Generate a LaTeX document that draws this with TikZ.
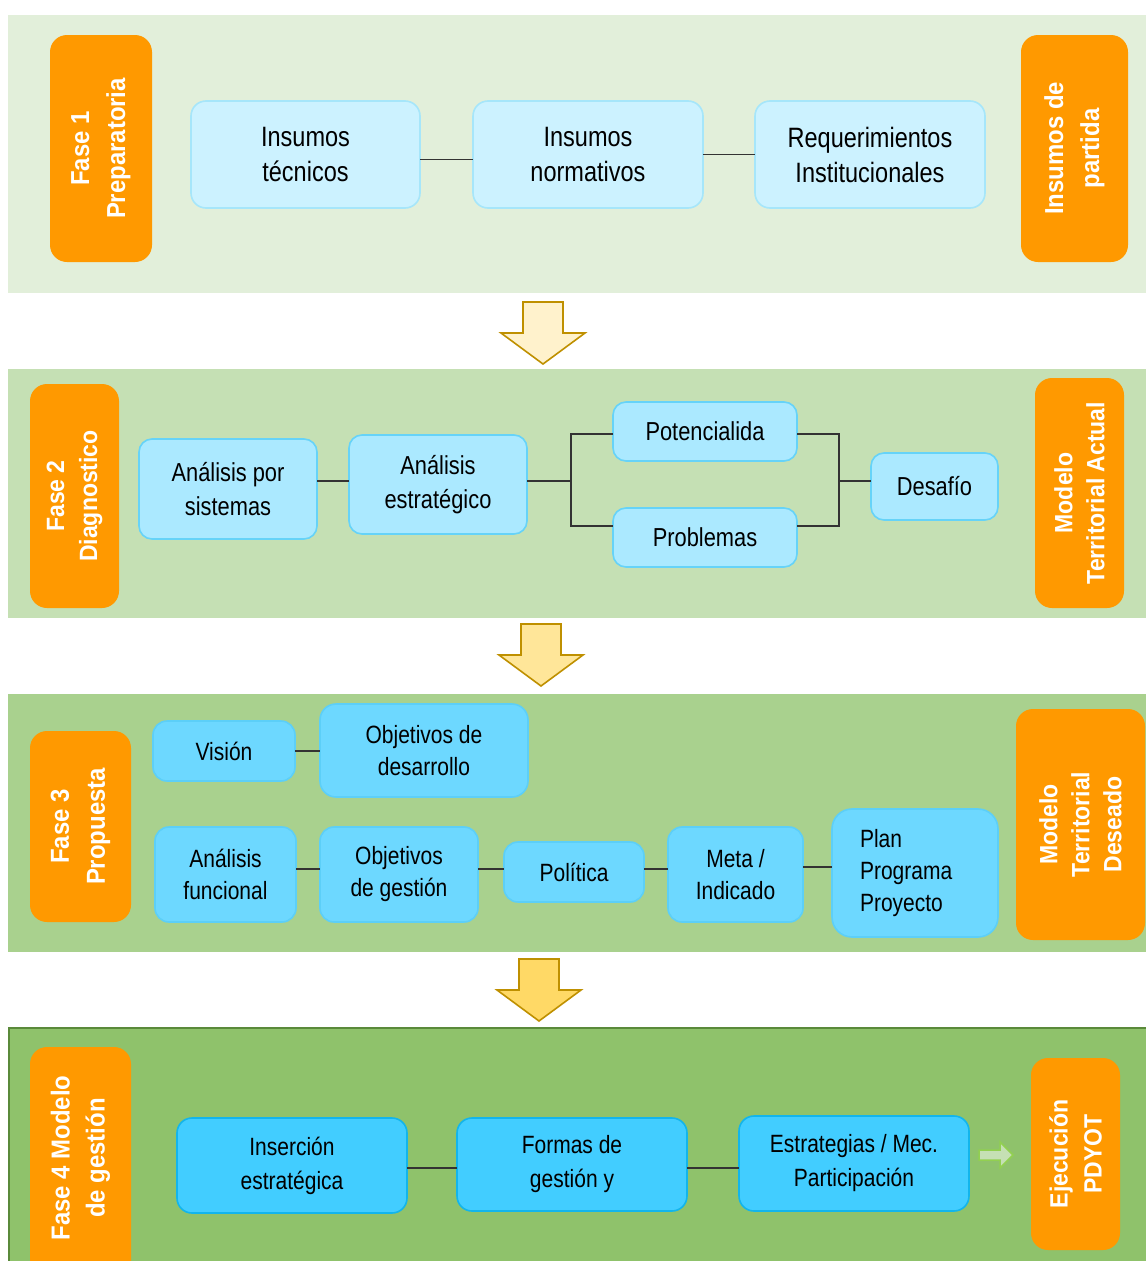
\documentclass[tikz,border=0pt]{standalone}
\usepackage{fontspec}
\setmainfont{Liberation Sans}[FakeStretch=0.84]
\newfontfamily\labfont{Liberation Sans}[FakeStretch=0.92]
\definecolor{bandA}{HTML}{E2EFDA}
\definecolor{bandB}{HTML}{C5E0B4}
\definecolor{bandC}{HTML}{A9D18E}
\definecolor{bandD}{HTML}{8FC26B}
\definecolor{bandDline}{HTML}{5A8A3A}
\definecolor{orbox}{HTML}{FF9900}
\definecolor{nAfill}{HTML}{CCF2FF}
\definecolor{nAdraw}{HTML}{A6E6FA}
\definecolor{nBfill}{HTML}{ABE9FF}
\definecolor{nBdraw}{HTML}{66D3F8}
\definecolor{nCfill}{HTML}{6DD8FF}
\definecolor{nCdraw}{HTML}{5CCFF8}
\definecolor{nDfill}{HTML}{42CDFF}
\definecolor{nDdraw}{HTML}{12B5EC}
\definecolor{conn}{HTML}{333333}
\definecolor{arrA}{HTML}{FFF2CC}
\definecolor{arrB}{HTML}{FFE699}
\definecolor{arrC}{HTML}{FFD966}
\definecolor{arrline}{HTML}{BF9000}
\definecolor{garfill}{HTML}{C5E0B4}
\definecolor{garline}{HTML}{92D050}
\begin{document}
\begin{tikzpicture}[x=1pt,y=-1pt,
  every node/.style={inner sep=0pt, outer sep=0pt},
  lab/.style={fill=orbox, draw=none, rounded corners=17pt, rotate=90, align=center,
    text=white, font=\labfont\bfseries\fontsize{26}{36}\selectfont},
  boxA/.style={fill=nAfill, draw=nAdraw, line width=1.6pt, rounded corners=15pt, align=center,
    font=\fontsize{28}{35}\selectfont},
  boxB/.style={fill=nBfill, draw=nBdraw, line width=1.6pt, rounded corners=13pt, align=center,
    font=\fontsize{26}{34}\selectfont},
  boxC/.style={fill=nCfill, draw=nCdraw, line width=1.6pt, rounded corners=14pt, align=center,
    font=\fontsize{25}{32}\selectfont},
  boxD/.style={fill=nDfill, draw=nDdraw, line width=1.6pt, rounded corners=15pt, align=center,
    font=\fontsize{25}{34}\selectfont},
  link/.style={draw=conn, line width=1.3pt},
  bigarrow/.style={draw=arrline, line width=1.6pt, line join=miter}
]
\useasboundingbox (0,0) rectangle (1146,1261);
\fill[white] (0,0) rectangle (1146,1261);

% ---------- bands ----------
\fill[bandA] (8,15) rectangle (1146,293);
\fill[bandB] (8,369) rectangle (1146,618);
\fill[bandC] (8,694) rectangle (1146,952);
\fill[bandD] (8,1027) rectangle (1146,1275);
\draw[bandDline, line width=1.5pt] (8.75,1275) -- (8.75,1027.75) -- (1146,1027.75);

% ---------- big arrows ----------
\path[bigarrow, fill=arrA] (523,302) -- (563,302) -- (563,333) -- (585,333) -- (543,364) -- (501,333) -- (523,333) -- cycle;
\path[bigarrow, fill=arrB] (521,624) -- (561,624) -- (561,655) -- (583,655) -- (541,686) -- (499,655) -- (521,655) -- cycle;
\path[bigarrow, fill=arrC] (519,959) -- (559,959) -- (559,990) -- (581,990) -- (539,1021) -- (497,990) -- (519,990) -- cycle;

% ---------- Fase 1 ----------
\node[lab, minimum width=227, minimum height=102] (f1) at (101,148.5) {Fase 1\\Preparatoria};
\node[lab, minimum width=227, minimum height=107] (idp) at (1074.5,148.5) {Insumos de\\partida};
\node[boxA, minimum width=229, minimum height=107] (it) at (305.5,154.5) {Insumos\\técnicos};
\node[boxA, minimum width=230, minimum height=107] (inn) at (588,154.5) {Insumos\\normativos};
\node[boxA, minimum width=230, minimum height=107] (ri) at (870,154.5) {Requerimientos\\Institucionales};
\draw[link] ([yshift=-5pt]it.east) -- ([yshift=-5pt]inn.west);
\draw[link] (inn.east) -- (ri.west);

% ---------- Fase 2 ----------
\node[lab, minimum width=224, minimum height=89, font=\labfont\bfseries\fontsize{25}{33}\selectfont] (f2) at (74.5,496) {Fase 2\\Diagnostico};
\node[lab, minimum width=230, minimum height=89, font=\labfont\bfseries\fontsize{25}{32}\selectfont] (mta) at (1079.5,493) {Modelo\\Territorial Actual};
\node[boxB, minimum width=178, minimum height=100] (aps) at (228,489) {Análisis por\\sistemas};
\node[boxB, minimum width=178, minimum height=99] (aes) at (438,484.5) {Análisis\\estratégico};
\node[boxB, minimum width=184, minimum height=59] (pot) at (705,431.5) {Potencialida};
\node[boxB, minimum width=184, minimum height=59] (pro) at (705,537.5) {Problemas};
\node[boxB, minimum width=127, minimum height=67] (des) at (934.5,486.5) {Desafío};
\coordinate (jl) at (571,481);
\coordinate (jr) at (839,481);
\draw[link] (aps.east |- jl) -- (aes.west |- jl);
\draw[link] (aes.east |- jl) -- (jl);
\draw[link] (pot.west |- 0,434) -- (jl |- 0,434) -- (jl |- 0,526) -- (pro.west |- 0,526);
\draw[link] (pot.east |- 0,434) -- (jr |- 0,434) -- (jr |- 0,526) -- (pro.east |- 0,526);
\draw[link] (jr) -- (des.west |- jr);

% ---------- Fase 3 ----------
\node[lab, minimum width=191, minimum height=101] (f3) at (80.5,826.5) {Fase 3\\Propuesta};
\node[lab, minimum width=231, minimum height=129, font=\labfont\bfseries\fontsize{25}{32}\selectfont] (mtd) at (1080.5,824.5) {Modelo\\Territorial\\Deseado};
\node[boxC, minimum width=142, minimum height=60] (vis) at (224,751) {Visión};
\node[boxC, minimum width=208, minimum height=93, rounded corners=16pt] (od) at (424,750.5) {Objetivos de\\desarrollo};
\node[boxC, minimum width=141, minimum height=95] (af) at (225.5,874.5) {Análisis\\funcional};
\node[boxC, minimum width=158, minimum height=95] (og) at (399,874.5) {Objetivos\\de gestión};
\node[boxC, minimum width=140, minimum height=60] (pol) at (574,872) {Política};
\node[boxC, minimum width=135, minimum height=95] (mi) at (735.5,874.5) {Meta /\\Indicado};
\node[boxC, minimum height=128, text width=110pt, inner xsep=28pt, align=left, rounded corners=20pt] (ppp) at (915,873) {Plan\\Programa\\Proyecto};
\draw[link] (vis.east) -- (od.west |- vis.east);
\draw[link] (af.east |- 0,869) -- (og.west |- 0,869);
\draw[link] (og.east |- 0,869) -- (pol.west |- 0,869);
\draw[link] (pol.east |- 0,869) -- (mi.west |- 0,869);
\draw[link] (mi.east |- 0,867) -- (ppp.west |- 0,867);

% ---------- Fase 4 ----------
\node[lab, minimum width=240, minimum height=101] (f4) at (80.5,1167) {};
\node[rotate=90, align=center, text=white, font=\labfont\bfseries\fontsize{26}{35}\selectfont] (f4t) at (80.5,1158) {Fase 4 Modelo\\de gestión};
\node[lab, minimum width=192, minimum height=89, font=\labfont\bfseries\fontsize{25}{34}\selectfont] (ejp) at (1075.5,1154) {Ejecución\\PDYOT};
\node[boxD, minimum width=230, minimum height=95] (ins) at (292,1165.5) {Inserción\\estratégica};
\node[boxD, minimum width=230, minimum height=93] (fg) at (572,1164.5) {Formas de\\gestión y};
\node[boxD, minimum width=230, minimum height=95] (est) at (854,1163.5) {Estrategias / Mec.\\Participación};
\draw[link] (ins.east |- 0,1168) -- (fg.west |- 0,1168);
\draw[link] (fg.east |- 0,1168) -- (est.west |- 0,1168);
\path[draw=garline, fill=garfill, line width=1.5pt, line join=miter]
  (979,1150) -- (1000,1150) -- (1000,1142) -- (1013,1155) -- (1000,1168) -- (1000,1160) -- (979,1160) -- cycle;
\end{tikzpicture}
\end{document}
